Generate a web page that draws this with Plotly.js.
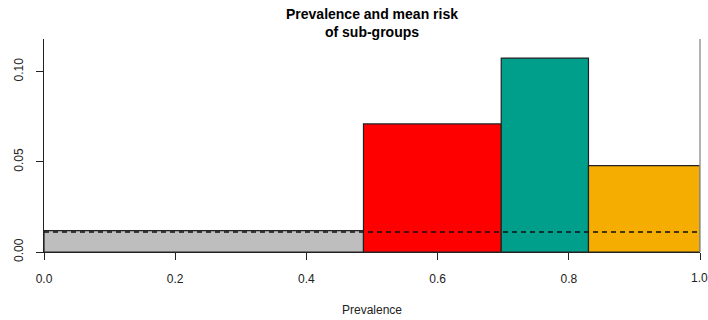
<!DOCTYPE html>
<html>
<head>
<meta charset="utf-8">
<script src="https://cdn.plot.ly/plotly-3.0.1.min.js"></script>
<style>html,body{margin:0;padding:0;background:#fff;}#chart{width:708px;height:320px;}</style>
</head>
<body>
<div id="chart"></div>
<script>
// Data
const breaks = [0, 0.487, 0.697, 0.830, 1.0];
const meanRisk = [0.0118, 0.0710, 0.1075, 0.0479];
const groupColors = ['#BEBEBE', '#FF0000', '#009F8B', '#F4AD00'];
const overallRisk = 0.0111;
const yTicks = [0, 0.05, 0.10];
const yTickLabels = ['0.00', '0.05', '0.10'];
const xTicks = [0, 0.2, 0.4, 0.6, 0.8, 1.0];
const xTickLabels = ['0.0', '0.2', '0.4', '0.6', '0.8', '1.0'];

const centers = [], widths = [];
for (let i = 0; i < meanRisk.length; i++) {
  centers.push((breaks[i] + breaks[i + 1]) / 2);
  widths.push(breaks[i + 1] - breaks[i]);
}

const bars = {
  type: 'bar',
  x: centers,
  y: meanRisk,
  width: widths,
  marker: { color: groupColors, line: { color: '#222', width: 1.2 } },
  hoverinfo: 'skip',
  showlegend: false
};
const refLine = {
  type: 'scatter',
  mode: 'lines',
  x: [breaks[0], breaks[breaks.length - 1]],
  y: [overallRisk, overallRisk],
  line: { color: '#111', width: 1.3, dash: '5px,4px' },
  hoverinfo: 'skip',
  showlegend: false
};

// the last tick label sits on the plot edge; draw it as an annotation so it is not dropped
const lastIdx = xTicks.length - 1;
const shownTickText = xTickLabels.map((t, i) => (i === lastIdx ? '' : t));

const font = 'Liberation Sans, Arial, sans-serif';
const layout = {
  width: 708, height: 320,
  margin: { l: 44, r: 8, t: 39, b: 68 },
  paper_bgcolor: '#fff', plot_bgcolor: '#fff',
  font: { family: font, size: 12, color: '#222' },
  title: {
    text: '<b>Prevalence and mean risk<br>of sub-groups</b>',
    font: { family: font, size: 14, color: '#000' },
    x: 372 / 708, xanchor: 'center', xref: 'container',
    y: 1 - 19 / 320, yanchor: 'top', yref: 'container'
  },
  xaxis: {
    range: [0, 1], fixedrange: true,
    tickvals: xTicks, ticktext: shownTickText,
    ticks: 'outside', ticklen: 7, tickwidth: 1, tickcolor: '#222',
    showline: true, linecolor: '#222', linewidth: 1,
    showgrid: false, zeroline: false,
    ticklabelstandoff: 9,
    tickfont: { size: 12, color: '#222' },
    title: { text: 'Prevalence', font: { size: 12, color: '#222' }, standoff: 20 },
    automargin: false
  },
  yaxis: {
    range: [0, 0.1181], fixedrange: true,
    tickvals: yTicks, ticktext: yTickLabels,
    ticks: 'outside', ticklen: 7, tickwidth: 1, tickcolor: '#222',
    showline: true, linecolor: '#222', linewidth: 1,
    showgrid: false, zeroline: false,
    tickangle: -90,
    ticklabelstandoff: 8,
    tickfont: { size: 12, color: '#222' },
    automargin: false
  },
  annotations: [{
    xref: 'x', yref: 'paper',
    x: xTicks[lastIdx], y: 0,
    text: xTickLabels[lastIdx],
    showarrow: false,
    xanchor: 'center', yanchor: 'top',
    xshift: -1, yshift: -17,
    font: { family: font, size: 12, color: '#222' }
  }],
  shapes: [{
    type: 'line', xref: 'paper', yref: 'paper',
    x0: 1, x1: 1, y0: 0, y1: 1,
    line: { color: '#999', width: 1.5 }
  }],
  bargap: 0
};

Plotly.newPlot('chart', [bars, refLine], layout, { displayModeBar: false, staticPlot: true });
</script>
</body>
</html>
